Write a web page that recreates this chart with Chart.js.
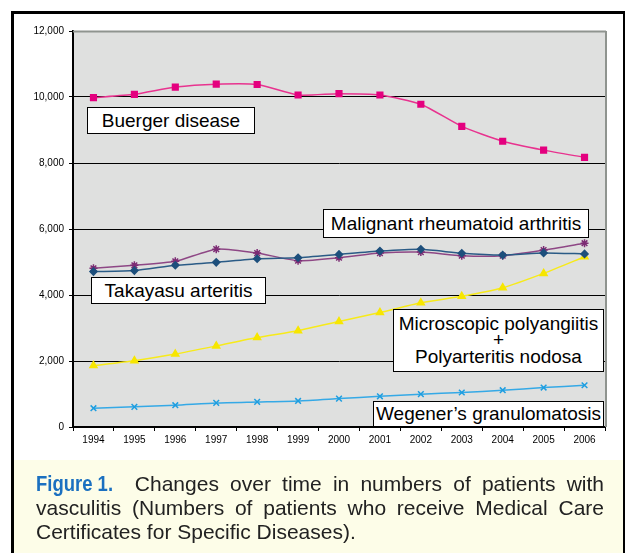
<!DOCTYPE html>
<html>
<head>
<meta charset="utf-8">
<script src="https://cdn.jsdelivr.net/npm/chart.js@4"></script>
<style>
  html, body { margin: 0; padding: 0; background: #fff; }
  #wrap { position: relative; width: 626px; height: 553px; overflow: hidden; font-family: "Liberation Sans", Arial, sans-serif; }
  #cv { position: absolute; left: 0; top: 0; }
  #frame { position: absolute; left: 11px; top: 11px; width: 609px; height: 600px;
           border-left: 3px solid #000; border-top: 3px solid #000; border-right: 2px solid #000; }
  #capbg { position: absolute; left: 14px; top: 460px; width: 609px; height: 93px; background: #fdfde8; }
  .lbl { position: absolute; background: #fff; border: 1px solid #000; box-sizing: border-box;
         display: flex; align-items: center; justify-content: center; text-align: center;
         font-size: 19px; color: #000; white-space: nowrap; }
  #caption { position: absolute; left: 36px; top: 472px; width: 568px; font-size: 21px; line-height: 24px; color: #222; }
  #caption div { text-align: justify; text-align-last: justify; white-space: nowrap; }
  #caption div.last { text-align-last: left; }
  .fig { display: inline-block; color: #1b70c0; font-weight: bold; font-size: 22px;
         transform: scaleX(0.84); transform-origin: 0 50%; margin-right: -4px; }
</style>
</head>
<body>
<div id="wrap">
  <div id="capbg"></div>
  <canvas id="cv" width="626" height="460"></canvas>
  <div id="frame"></div>

  <div class="lbl" style="left:87px;top:107px;width:168px;height:27px;">Buerger disease</div>
  <div class="lbl" style="left:323px;top:209px;width:266px;height:29px;">Malignant rheumatoid arthritis</div>
  <div class="lbl" style="left:91px;top:277px;width:175px;height:27px;">Takayasu arteritis</div>
  <div class="lbl" style="left:393px;top:309px;width:211px;height:63px;line-height:16.5px;flex-direction:column;">
    <span>Microscopic polyangiitis</span><span>+</span><span>Polyarteritis nodosa</span></div>
  <div class="lbl" style="left:373px;top:401px;width:231px;height:26px;">Wegener’s granulomatosis</div>

  <div id="caption">
    <div><span class="fig">Figure 1.</span> Changes over time in numbers of patients with</div>
    <div>vasculitis (Numbers of patients who receive Medical Care</div>
    <div class="last">Certificates for Specific Diseases).</div>
  </div>
</div>
<script>
const years = ["1994","1995","1996","1997","1998","1999","2000","2001","2002","2003","2004","2005","2006"];
const buerger = [9980, 10080, 10300, 10390, 10380, 10060, 10100, 10060, 9780, 9110, 8660, 8390, 8170];
const takayasu = [4710, 4740, 4900, 4990, 5100, 5130, 5230, 5330, 5385, 5265, 5210, 5275, 5245];
const malignantRA = [4810, 4900, 5020, 5390, 5270, 5040, 5130, 5270, 5300, 5190, 5190, 5360, 5570];
const mpaPn = [1860, 2010, 2210, 2455, 2710, 2920, 3195, 3470, 3765, 3960, 4220, 4655, 5160];
const wegener = [570, 610, 660, 730, 760, 790, 860, 930, 995, 1045, 1115, 1195, 1265];
const yTicks = [0, 2000, 4000, 6000, 8000, 10000, 12000];

const plotBg = {
  id: 'plotBg',
  beforeDraw(chart) {
    const a = chart.chartArea, c = chart.ctx;
    c.save();
    c.fillStyle = '#dfe0df';
    c.fillRect(a.left, a.top, a.right - a.left, a.bottom - a.top);
    c.restore();
  },
  afterDraw(chart) {
    const a = chart.chartArea, c = chart.ctx;
    c.save();
    c.strokeStyle = '#8f948f';
    c.lineWidth = 2;
    c.beginPath();
    c.moveTo(a.left, a.top + 0.5);
    c.lineTo(a.right + 1, a.top + 0.5);
    c.moveTo(a.right + 1, a.top);
    c.lineTo(a.right + 1, a.bottom);
    c.stroke();
    c.restore();
  }
};

function ds(label, data, color, lineColor, style, r) {
  return {
    label, data,
    borderColor: lineColor, backgroundColor: color,
    pointBackgroundColor: color, pointBorderColor: color,
    pointStyle: style, pointRadius: r, pointBorderWidth: 1.5,
    borderWidth: 1.5, tension: 0.2, fill: false
  };
}

new Chart(document.getElementById('cv'), {
  type: 'line',
  data: {
    labels: years,
    datasets: [
      ds('Buerger disease', buerger, '#e4007f', '#e8338f', 'rect', 4),
      ds('Takayasu arteritis', takayasu, '#1d4f7c', '#2a5b86', 'rectRot', 3.5),
      ds('Malignant rheumatoid arthritis', malignantRA, '#7d2c74', '#8e4785', 'star', 4),
      ds('Microscopic polyangiitis + Polyarteritis nodosa', mpaPn, '#f7e600', '#f7ea1a', 'triangle', 4),
      ds('Wegener’s granulomatosis', wegener, '#1e9ee0', '#35a9e6', 'crossRot', 4)
    ]
  },
  options: {
    responsive: false,
    animation: false,
    devicePixelRatio: 1,
    layout: { padding: { top: 31, right: 21, left: 0, bottom: 0 } },
    plugins: { legend: { display: false }, tooltip: { enabled: false } },
    scales: {
      x: {
        type: 'category',
        offset: true,
        grid: { offset: true, drawOnChartArea: false, drawTicks: true, tickLength: 4, color: '#000' },
        border: { color: '#000', width: 2 },
        ticks: { font: { size: 10, family: 'Liberation Sans' }, color: '#000', padding: 3, maxRotation: 0, autoSkip: false },
        afterFit(s) { s.height = 33; }
      },
      y: {
        min: 0, max: 12000,
        afterBuildTicks(s) { s.ticks = yTicks.map(v => ({ value: v })); },
        ticks: {
          font: { size: 10, family: 'Liberation Sans' }, color: '#000', padding: 5,
          callback: v => v.toLocaleString('en-US')
        },
        grid: { color: ctx => (ctx.tick && ctx.tick.value === 12000) ? '#8f948f' : '#000', lineWidth: 1, tickLength: 4, tickColor: '#000' },
        border: { color: '#000', width: 2 },
        afterFit(s) { s.width = 73; }
      }
    }
  },
  plugins: [plotBg]
});
</script>
</body>
</html>
